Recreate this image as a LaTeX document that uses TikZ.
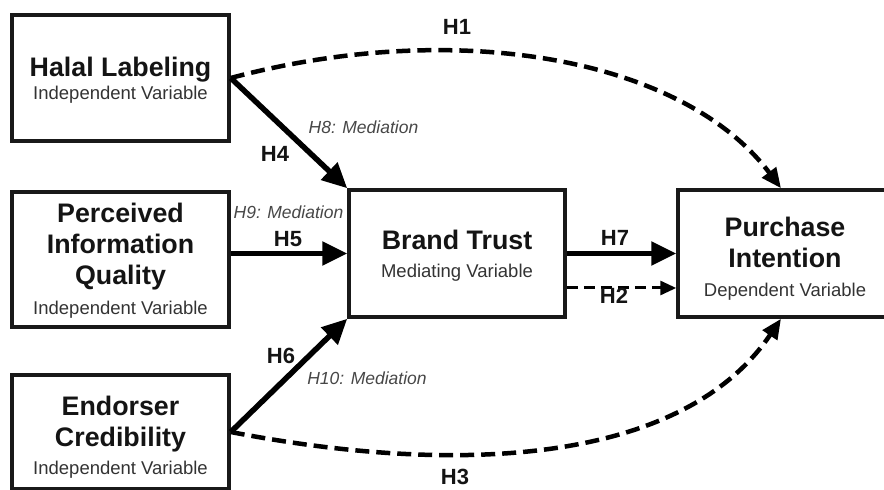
\documentclass[tikz,border=0pt]{standalone}
\usepackage{fontspec}
\setmainfont{Liberation Sans}
\usetikzlibrary{arrows.meta}

\tikzset{
  var/.style={draw=black!90, line width=3.5pt, inner sep=0pt},
  ttl/.style={font=\fontsize{26.8}{31}\selectfont\bfseries, text=black!92, align=center, anchor=base},
  sub/.style={font=\fontsize{18.5}{22}\selectfont, text=black!80, anchor=base},
  hyp/.style={font=\fontsize{22}{26}\selectfont\bfseries, text=black!92},
  med/.style={font=\fontsize{17.5}{20}\selectfont\itshape, text=black!72},
  direct/.style={draw=black, line width=5.5pt, -{Triangle[length=25pt,width=23pt]}},
  indirect/.style={draw=black, line width=4.5pt, dash pattern=on 14pt off 7pt, -{Triangle[length=20pt,width=17pt]}},
  indirectthin/.style={draw=black, line width=3pt, dash pattern=on 11pt off 6pt, -{Triangle[length=16pt,width=14pt]}}
}

\begin{document}
\begin{tikzpicture}[x=1pt,y=1pt]
	\useasboundingbox (0,0) rectangle (884,490);

	% independent variables (base of a title = its last line)
	\node[var, minimum width=217pt, minimum height=126pt] (halal) at (120.5,412) {};
	\node[ttl] (halal-t) at (120.5,413) {Halal Labeling};
	\node[sub] (halal-s) at (120.5,390) {Independent Variable};

	\node[var, minimum width=217pt, minimum height=135pt] (pic) at (120.5,230.5) {};
	\node[ttl] (pic-t) at (120.5,205) {Perceived\\Information\\Quality};
	\node[sub] (pic-s) at (120.5,175) {Independent Variable};

	\node[var, minimum width=217pt, minimum height=114pt] (cred) at (120.5,58) {};
	\node[ttl] (cred-t) at (120.5,43) {Endorser\\Credibility};
	\node[sub] (cred-s) at (120.5,15) {Independent Variable};

	% mediating and dependent variables
	\node[var, minimum width=216pt, minimum height=127pt] (brand) at (457,236.5) {};
	\node[ttl] (brand-t) at (457,240) {Brand Trust};
	\node[sub] (brand-s) at (457,212) {Mediating Variable};

	\node[var, minimum width=214pt, minimum height=127pt] (pur) at (785,236.5) {};
	\node[ttl] (pur-t) at (785,222) {Purchase\\Intention};
	\node[sub] (pur-s) at (785,193) {Dependent Variable};

	% hypotheses
	\draw[indirect] (halal.east) to[out=15,in=127,out looseness=1.05,in looseness=0.75] ([xshift=-4pt]pur.north);
	\draw[indirect] (cred.east) to[out=-11,in=-124,out looseness=1.05,in looseness=0.8] ([xshift=-4pt]pur.south);
	\draw[direct] (halal.east) -- (brand.north west);
	\draw[direct] (pic.east |- brand.west) -- (brand.west);
	\draw[direct] (cred.east) -- (brand.south west);
	\draw[direct] (brand.east) -- (pur.west);
	\draw[indirectthin] ([yshift=-34.5pt]brand.east) -- ([yshift=-34.5pt]pur.west);

	\node[hyp] (h1) at (457,463) {H1};
	\node[hyp] (h2) at (614,194) {H2};
	\node[hyp] (h3) at (455,13) {H3};
	\node[hyp] (h4) at (275,336.5) {H4};
	\node[hyp] (h5) at (288,251) {H5};
	\node[hyp] (h6) at (281,134) {H6};
	\node[hyp] (h7) at (615,252.5) {H7};
	\node[med] (h8) at (363.5,363) {H8: Mediation};
	\node[med] (h9) at (288.5,278) {H9: Mediation};
	\node[med] (h10) at (367,112) {H10: Mediation};
\end{tikzpicture}
\end{document}
